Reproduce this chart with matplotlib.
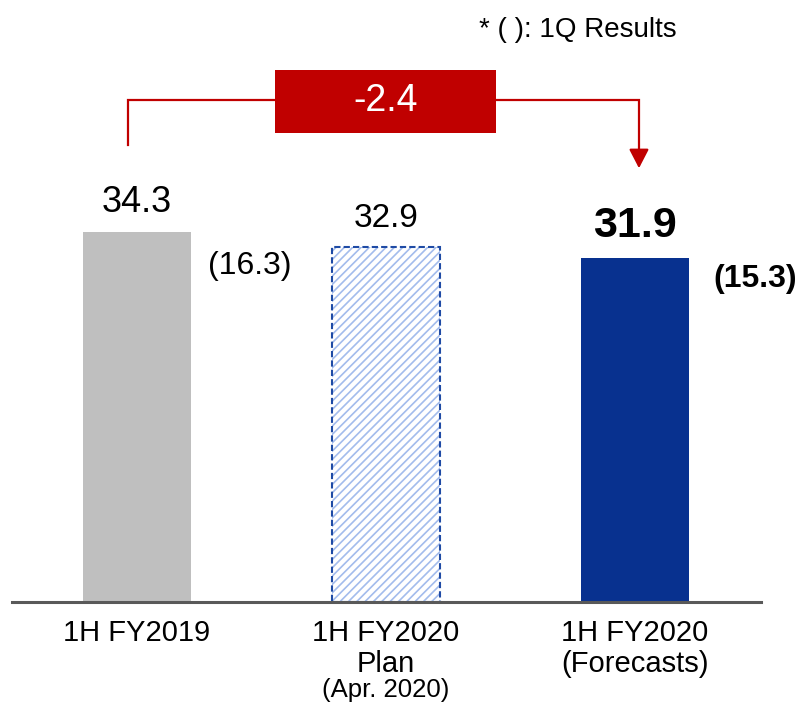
import matplotlib.pyplot as plt
from matplotlib.patches import Rectangle

plt.rcParams['font.family'] = ['Liberation Sans', 'DejaVu Sans']
plt.rcParams['hatch.linewidth'] = 1.2

# data
CATEGORIES = ["1H FY2019", "1H FY2020\nPlan", "1H FY2020\n(Forecasts)"]
PLAN_NOTE = "(Apr. 2020)"
VALUES = [34.3, 32.9, 31.9]
Q1_RESULTS = [16.3, None, 15.3]
NOTE = "* ( ): 1Q Results"

GRAY = '#BFBFBF'
NAVY = '#08318F'
HATCH_BLUE = '#A3BCEC'
DASH_BLUE = '#1F4BA5'
RED = '#C00000'

fig = plt.figure(figsize=(8.05, 7.18), dpi=100)
ax = fig.add_axes([0, 116 / 718, 1, 602 / 718])
ax.set_xlim(-137 / 249, (805 - 137) / 249)
ax.set_ylim(0, 602 / 10.79)
ax.set_axis_off()

x = list(range(len(VALUES)))
w = 0.435

ax.bar(x[0], VALUES[0], width=w, color=GRAY, linewidth=0)
# plan bar: hatched fill + dashed outline
ax.bar(x[1], VALUES[1], width=w, facecolor='white', edgecolor=HATCH_BLUE,
       hatch='////', linewidth=0)
ax.bar(x[1], VALUES[1], width=w, facecolor='none', edgecolor=DASH_BLUE,
       linewidth=1.5, linestyle=(0, (3, 1.5)))
ax.bar(x[2], VALUES[2], width=w, color=NAVY, linewidth=0)

# baseline
ax.axhline(0, xmin=12 / 805, xmax=761 / 805, color='#595959', lw=2.2, clip_on=False)

# value labels
ax.text(x[0], VALUES[0] + 1.85, f"{VALUES[0]:.1f}", ha='center', va='baseline', fontsize=26)
ax.text(x[1], VALUES[1] + 1.85, f"{VALUES[1]:.1f}", ha='center', va='baseline', fontsize=24)
ax.text(x[2], VALUES[2] + 1.9, f"{VALUES[2]:.1f}", ha='center', va='baseline',
        fontsize=31, fontweight='bold')

ax.text(x[0] + 0.454, 30.4, f"({Q1_RESULTS[0]:.1f})", ha='center', va='baseline', fontsize=23)
ax.text(x[2] + 0.483, 29.2, f"({Q1_RESULTS[2]:.1f})", ha='center', va='baseline',
        fontsize=23, fontweight='bold')

# category labels
for i, cat in enumerate(CATEGORIES):
    for j, line in enumerate(cat.split("\n")):
        ax.annotate(line, xy=(x[i], 0), xytext=(0, -22.5 - 22.3 * j),
                    textcoords='offset points', ha='center', va='center',
                    fontsize=21, annotation_clip=False)
ax.annotate(PLAN_NOTE, xy=(x[1], 0), xytext=(0, -63.5), textcoords='offset points',
            ha='center', va='center', fontsize=18.5, annotation_clip=False)

# difference bracket
xl, xr = x[0] - 0.036, x[2] + 0.016
y_bot, y_top, y_tip = 42.35, 46.5, 40.2
ax.plot([xl, xl, xr, xr], [y_bot, y_top, y_top, y_tip + 1.0], color=RED, lw=1.6,
        solid_joinstyle='miter')
ax.annotate('', xy=(xr, y_tip), xytext=(xr, y_tip + 1.6),
            arrowprops=dict(arrowstyle='-|>,head_length=0.58,head_width=0.3',
                            color=RED, lw=1.6, mutation_scale=20,
                            shrinkA=0, shrinkB=0))
ax.add_patch(Rectangle((0.554, 43.47), 0.888, 5.84, facecolor=RED, edgecolor='none',
                       zorder=5))
delta = VALUES[2] - VALUES[0]
ax.text(1.0, 46.4, f"{delta:.1f}", ha='center', va='center', color='white',
        fontsize=27, zorder=6)

fig.text(578 / 805, 1 - 30 / 718, NOTE, ha='center', va='center', fontsize=20)

fig.savefig('out.png', dpi=100)
